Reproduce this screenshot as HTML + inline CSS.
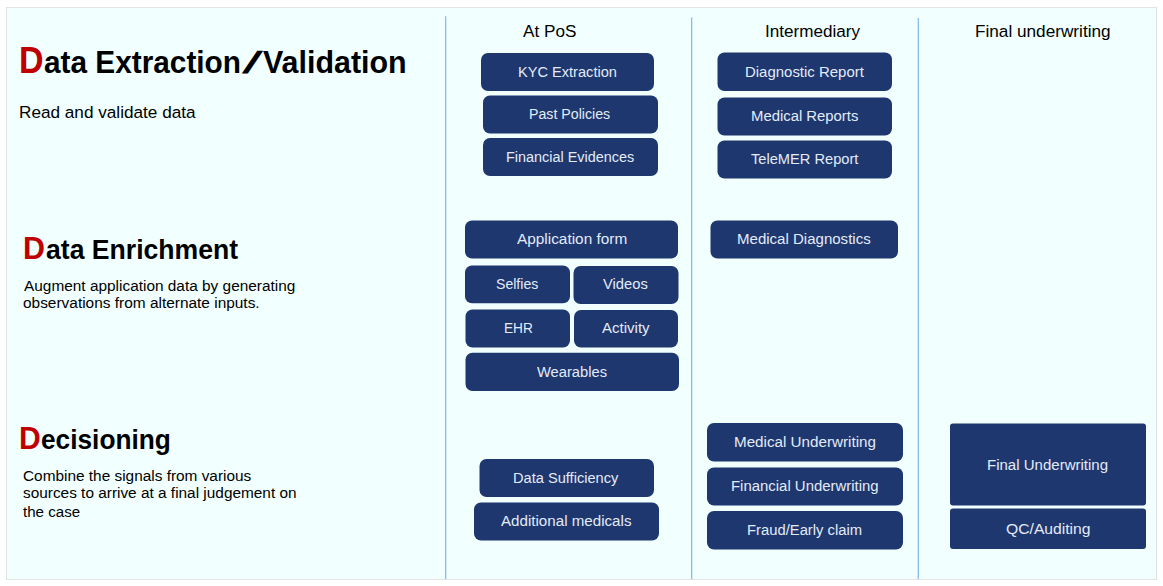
<!DOCTYPE html>
<html lang="en"><head><meta charset="utf-8"><title>Underwriting pipeline</title>
<style>
html,body{margin:0;padding:0;background:#fff;}
body{width:1163px;height:586px;position:relative;overflow:hidden;font-family:"Liberation Sans",sans-serif;color:#000;}
#panel{position:absolute;left:0;top:0;width:1163px;height:586px;}
#shapes{position:absolute;left:0;top:0;display:block;}
.g{margin:0;padding:0;font-weight:normal;font-size:15px;}
.g.h{font-weight:bold;}
.g span,.bx span{position:absolute;white-space:nowrap;line-height:1;transform-origin:0 0;}
.r{color:#c00000;}
.bx{position:absolute;color:#e3ebf8;font-size:15.5px;}

</style></head>
<body>
<div id="panel">
<svg id="shapes" width="1163" height="586" viewBox="0 0 1163 586">
<rect x="6.5" y="7.5" width="1150.0" height="572.0" fill="#f1ffff" stroke="#e4e3e4" stroke-width="1"/>
<line x1="445.65" y1="16.2" x2="445.65" y2="579" stroke="#86bbf5" stroke-width="1.3"/>
<line x1="691.65" y1="17.4" x2="691.65" y2="579" stroke="#86bbf5" stroke-width="1.3"/>
<line x1="918.3" y1="17.9" x2="918.3" y2="579" stroke="#86bbf5" stroke-width="1.3"/>
<rect x="481" y="53" width="173" height="38" rx="7" fill="#1e376f"/>
<rect x="483" y="95.5" width="175" height="38.0" rx="7" fill="#1e376f"/>
<rect x="483" y="138" width="175" height="38" rx="7" fill="#1e376f"/>
<rect x="465" y="220.5" width="213" height="38.0" rx="7" fill="#1e376f"/>
<rect x="465" y="265.5" width="105" height="37.8" rx="7" fill="#1e376f"/>
<rect x="573.5" y="266" width="105.0" height="38" rx="7" fill="#1e376f"/>
<rect x="465.5" y="309.5" width="104.5" height="38.0" rx="7" fill="#1e376f"/>
<rect x="574" y="310" width="104" height="37.5" rx="7" fill="#1e376f"/>
<rect x="465.5" y="352.7" width="213.5" height="38.3" rx="7" fill="#1e376f"/>
<rect x="479.5" y="459" width="174.5" height="38" rx="7" fill="#1e376f"/>
<rect x="474" y="502.5" width="185" height="38.0" rx="7" fill="#1e376f"/>
<rect x="717.5" y="52.5" width="174.5" height="38.5" rx="7" fill="#1e376f"/>
<rect x="717.5" y="97.5" width="174.5" height="38.0" rx="7" fill="#1e376f"/>
<rect x="717.5" y="140.5" width="174.5" height="38.0" rx="7" fill="#1e376f"/>
<rect x="710.5" y="220.5" width="187.5" height="38.0" rx="7" fill="#1e376f"/>
<rect x="707" y="423" width="196" height="38.5" rx="7" fill="#1e376f"/>
<rect x="707" y="467.5" width="196" height="38.0" rx="7" fill="#1e376f"/>
<rect x="707" y="511" width="196" height="38.5" rx="7" fill="#1e376f"/>
<rect x="950" y="423.5" width="196" height="82.0" rx="3" fill="#1e376f"/>
<rect x="950" y="508.5" width="196" height="40.5" rx="3" fill="#1e376f"/>
</svg>
<h3 class="g c"><span id="c1" style="left:523.01px;top:23px;font-size:17.4px;transform:scaleX(0.9868)">At PoS</span></h3>
<h3 class="g c"><span id="c2" style="left:764.69px;top:23px;font-size:17.4px;transform:scaleX(0.9834)">Intermediary</span></h3>
<h3 class="g c"><span id="c3" style="left:975.17px;top:23px;font-size:17.4px;transform:scaleX(0.9879)">Final underwriting</span></h3>
<h1 class="g h"><span id="h1d" class="r" style="left:18.99px;top:43px;font-size:36px;transform:scaleX(0.9450)">D</span><span id="h1a" style="left:43.82px;top:47px;font-size:30.6px;transform:scaleX(0.9736)">ata Extraction</span><span id="h1b" style="left:251.21px;top:47px;font-size:30.6px;transform:skewX(-20deg) scaleX(1.6508)">/</span><span id="h1c" style="left:262.71px;top:47px;font-size:30.6px;transform:scaleX(0.9939)">Validation</span></h1>
<p class="g p"><span id="p1" style="left:18.92px;top:104px;font-size:17.1px;transform:scaleX(1.0045)">Read and validate data</span></p>
<h2 class="g h"><span id="h2d" class="r" style="left:23.05px;top:233px;font-size:31.7px;transform:scaleX(0.9608)">D</span><span id="h2a" style="left:46.02px;top:236px;font-size:27.2px;transform:scaleX(0.9781)">ata Enrichment</span></h2>
<p class="g p"><span id="p2a" style="left:23.58px;top:278px;font-size:15.5px;transform:scaleX(0.9933)">Augment application data by generating</span>
<span id="p2b" style="left:22.73px;top:295px;font-size:15.5px;transform:scaleX(0.9952)">observations from alternate inputs.</span></p>
<h2 class="g h"><span id="h3d" class="r" style="left:19.08px;top:423px;font-size:30.6px;transform:scaleX(0.9842)">D</span><span id="h3a" style="left:40.64px;top:425px;font-size:28.5px;transform:scaleX(0.9210)">ecisioning</span></h2>
<p class="g p"><span id="p3a" style="left:22.68px;top:468px;font-size:15.5px;transform:scaleX(0.9923)">Combine the signals from various</span>
<span id="p3b" style="left:22.87px;top:485px;font-size:15.5px;transform:scaleX(0.9922)">sources to arrive at a final judgement on</span>
<span id="p3c" style="left:22.58px;top:504px;font-size:15.5px;transform:scaleX(0.9750)">the case</span></p>
<div class="bx" style="left:481px;top:53px;width:173px;height:38px"><span id="b0" style="left:37.06px;top:11px;transform:scaleX(0.9411)">KYC Extraction</span></div>
<div class="bx" style="left:483px;top:95px;width:175px;height:39px"><span id="b1" style="left:46.02px;top:11px;transform:scaleX(0.9151)">Past Policies</span></div>
<div class="bx" style="left:483px;top:138px;width:175px;height:38px"><span id="b2" style="left:22.87px;top:11px;transform:scaleX(0.9292)">Financial Evidences</span></div>
<div class="bx" style="left:465px;top:220px;width:213px;height:38px"><span id="b3" style="left:52.15px;top:11px;transform:scaleX(0.9915)">Application form</span></div>
<div class="bx" style="left:465px;top:265px;width:105px;height:38px"><span id="b4" style="left:30.71px;top:11px;transform:scaleX(0.9089)">Selfies</span></div>
<div class="bx" style="left:573px;top:266px;width:105px;height:38px"><span id="b5" style="left:30.16px;top:10px;transform:scaleX(0.9501)">Videos</span></div>
<div class="bx" style="left:465px;top:309px;width:105px;height:39px"><span id="b6" style="left:38.63px;top:11px;transform:scaleX(0.8812)">EHR</span></div>
<div class="bx" style="left:574px;top:310px;width:104px;height:38px"><span id="b7" style="left:28.19px;top:10px;transform:scaleX(0.9689)">Activity</span></div>
<div class="bx" style="left:465px;top:352px;width:214px;height:39px"><span id="b8" style="left:72.09px;top:12px;transform:scaleX(0.9488)">Wearables</span></div>
<div class="bx" style="left:479px;top:459px;width:175px;height:38px"><span id="b9" style="left:34.29px;top:11px;transform:scaleX(0.9425)">Data Sufficiency</span></div>
<div class="bx" style="left:474px;top:502px;width:185px;height:38px"><span id="b10" style="left:27.13px;top:11px;transform:scaleX(0.9768)">Additional medicals</span></div>
<div class="bx" style="left:717px;top:52px;width:175px;height:39px"><span id="b11" style="left:27.87px;top:12px;transform:scaleX(0.9649)">Diagnostic Report</span></div>
<div class="bx" style="left:717px;top:97px;width:175px;height:39px"><span id="b12" style="left:33.98px;top:11px;transform:scaleX(0.9585)">Medical Reports</span></div>
<div class="bx" style="left:717px;top:140px;width:175px;height:38px"><span id="b13" style="left:34.39px;top:11px;transform:scaleX(0.9449)">TeleMER Report</span></div>
<div class="bx" style="left:710px;top:220px;width:188px;height:38px"><span id="b14" style="left:27.33px;top:11px;transform:scaleX(0.9699)">Medical Diagnostics</span></div>
<div class="bx" style="left:707px;top:423px;width:196px;height:39px"><span id="b15" style="left:27.05px;top:11px;transform:scaleX(0.9808)">Medical Underwriting</span></div>
<div class="bx" style="left:707px;top:467px;width:196px;height:39px"><span id="b16" style="left:24.20px;top:11px;transform:scaleX(0.9627)">Financial Underwriting</span></div>
<div class="bx" style="left:707px;top:511px;width:196px;height:39px"><span id="b17" style="left:39.74px;top:11px;transform:scaleX(0.9545)">Fraud/Early claim</span></div>
<div class="bx" style="left:950px;top:423px;width:196px;height:83px"><span id="b18" style="left:37.14px;top:34px;transform:scaleX(0.9690)">Final Underwriting</span></div>
<div class="bx" style="left:950px;top:508px;width:196px;height:41px"><span id="b19" style="left:55.97px;top:13px;transform:scaleX(1.0116)">QC/Auditing</span></div>
</div>
</body></html>
